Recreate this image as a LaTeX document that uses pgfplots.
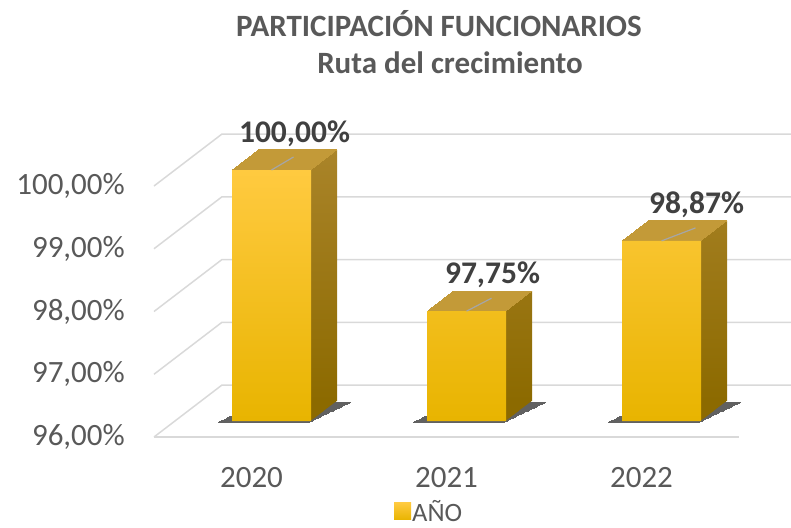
\documentclass[border=0pt]{standalone}
\usepackage{fontspec}
\setmainfont{Carlito}
\usepackage{pgfplots}
\pgfplotsset{compat=1.18}
\usepackage{pgfplotstable}
\definecolor{txt}{HTML}{595959}
\definecolor{lbl}{HTML}{404040}
\definecolor{gridc}{HTML}{D9D9D9}
\definecolor{front1}{HTML}{FFCA40}
\definecolor{front2}{HTML}{FFC600}
\definecolor{front3}{HTML}{E8B400}
\definecolor{side1}{HTML}{AA8429}
\definecolor{side2}{HTML}{8C6A00}
\definecolor{topc}{HTML}{C39A38}
\definecolor{leadc}{HTML}{A6A6A6}

\pgfplotstableread{
x y dx
0 100.00 22
1 97.75 25
2 98.87 34
}\datatable

\pgfdeclareplotmark{leader}{\pgfpathmoveto{\pgfpointorigin}\pgfpathlineto{\pgfpoint{\ldx pt}{13pt}}\pgfusepathqstroke}

\begin{document}
\begin{tikzpicture}
\useasboundingbox (0,0) rectangle (791pt,527pt);
\node[anchor=base, font=\fontsize{31}{36}\selectfont\bfseries, text=txt, inner sep=0pt] at (439pt,490pt) {PARTICIPACIÓN FUNCIONARIOS};
\node[anchor=base, font=\fontsize{31}{36}\selectfont\bfseries, text=txt, inner sep=0pt] at (450pt,453pt) {Ruta del crecimiento};
\begin{axis}[
  at={(174pt,106pt)}, anchor=south west,
  scale only axis, width=585pt, height=301.2pt,
  xmin=-0.5, xmax=2.5, ymin=96, ymax=100.8,
  y coord trafo/.code={\pgfmathparse{#1-96}},
  y coord inv trafo/.code={\pgfmathparse{#1+96}},
  clip=false, clip marker paths=true,
  axis line style={draw=none},
  major tick length=0pt,
  xtick={0,1,2}, xticklabels={2020,2021,2022},
  ytick={96,97,98,99,100},
  yticklabels={{96,00\%},{97,00\%},{98,00\%},{99,00\%},{100,00\%}},
  tick label style={font=\fontsize{31}{36}\selectfont, text=txt, inner sep=0pt},
  yticklabel style={anchor=east, xshift=-49pt, yshift=-16pt},
  xticklabel style={anchor=center, xshift=-20pt, yshift=-57pt},
  legend style={at={(0.376,-0.300)}, anchor=west, draw=none, fill=none, inner sep=0pt,
    font=\fontsize{26.5}{30}\selectfont, text=txt, nodes={inner sep=1pt}},
  legend image code/.code={\fill[top color=front1, middle color=front2, bottom color=front3] (0pt,-8.5pt) rectangle (17pt,8.5pt);},
]
% 3D walls / grid
\pgfplotsinvokeforeach{96,97,98,99,100}{
  \draw[gridc, line width=1.5pt] ([xshift=-20pt,yshift=-16pt]axis cs:-0.5,#1) -- ([xshift=48pt,yshift=36pt]axis cs:-0.5,#1) -- ([xshift=48pt,yshift=36pt]axis cs:3.0,#1);
}
\draw[gridc, line width=1.5pt] ([xshift=-20pt,yshift=-16pt]axis cs:-0.5,96) -- ([xshift=-20pt,yshift=-16pt]axis cs:2.5,96);
% floor shadow
\pgfplotsinvokeforeach{0,...,26}{
  \addplot[only marks, mark=-, mark size=46pt, mark options={draw=black!62, line width=1.3pt}, xshift={1.6*#1pt-8pt}, yshift={0.769*#1pt-1.5pt}, forget plot] coordinates {(0,96) (1,96) (2,96)};
}
% side extrusion
\pgfplotsinvokeforeach{1,...,26}{
  \addplot[ybar, bar width=79pt, bar shift=0pt, draw=none, top color=side1, bottom color=side2, xshift={#1pt}, yshift={0.769*#1pt}, forget plot] table[x=x,y=y]{\datatable};
}
% top faces
\pgfplotsinvokeforeach{0,...,26}{
  \addplot[only marks, mark=-, mark size=39.5pt, mark options={draw=topc, line width=1.3pt}, xshift={#1pt}, yshift={0.769*#1pt}, forget plot] table[x=x,y=y]{\datatable};
}
% front faces
\addplot[ybar, bar width=79pt, bar shift=0pt, draw=none, top color=front1, middle color=front2, bottom color=front3] table[x=x,y=y]{\datatable};
\addlegendentry{AÑO}
% leader lines
\addplot[only marks, mark=leader, mark options={draw=leadc, line width=1.2pt}, visualization depends on={\thisrow{dx}\as\ldx}, forget plot] table[x=x,y=y]{\datatable};
% labels
\addplot[draw=none, mark=none, point meta=explicit,
  visualization depends on={\thisrow{dx}\as\ldx},
  nodes near coords={\pgfmathprintnumber[fixed,fixed zerofill,precision=2,use comma,assume math mode=true]{\pgfplotspointmeta}\%},
  nodes near coords style={anchor=center, xshift={\ldx pt+1pt}, yshift=36pt, font=\fontsize{31.5}{36}\selectfont\bfseries, text=lbl},
  forget plot] table[x=x,y=y,meta=y]{\datatable};
\end{axis}
\end{tikzpicture}
\end{document}
